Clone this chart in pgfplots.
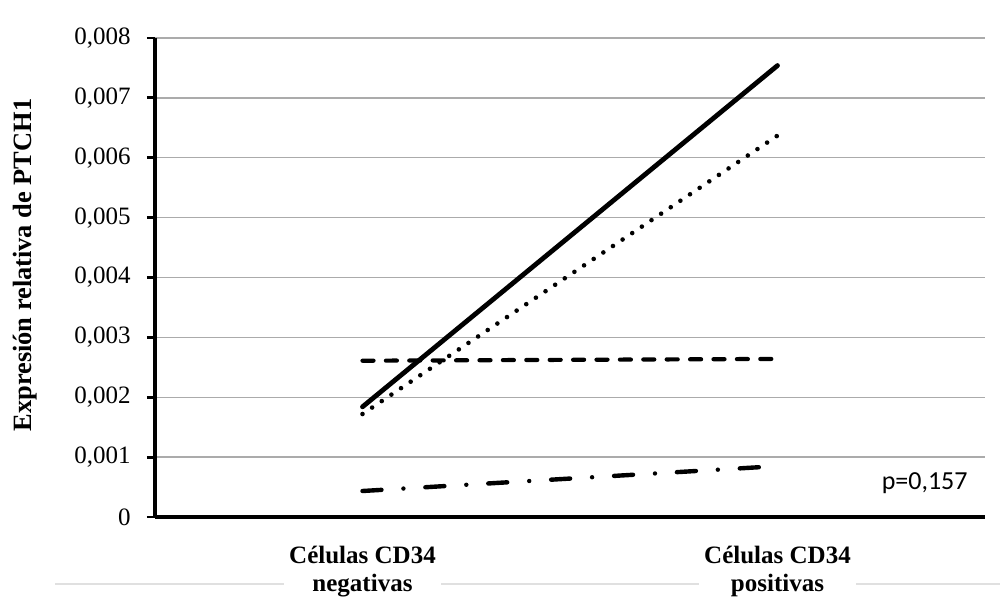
\documentclass[border=0pt]{standalone}
\usepackage{fontspec}
\setmainfont{Liberation Serif}
\newfontfamily\carlito{Carlito}
\usepackage{pgfplots}
\pgfplotsset{compat=1.18}
\begin{document}
\begin{tikzpicture}
\path[use as bounding box] (-77.5pt,-41pt) rectangle (424pt,258.5pt);
\draw[line width=0.8pt, black!12] (-50pt,-33.5pt) -- (422.5pt,-33.5pt);
\begin{axis}[
  at={(0,0)}, anchor=south west,
  scale only axis, width=415pt, height=239.5pt,
  xmin=-0.5, xmax=1.5, ymin=0, ymax=0.008,
  axis x line=bottom, axis y line=left,
  axis line style={line width=1.7pt, -},
  xtick={0,1},
  xticklabels={{Células CD34\\negativas},{Células CD34\\positivas}},
  xtick style={draw=none},
  xticklabel style={align=center, font=\fontsize{12.5}{14}\selectfont\bfseries,
     fill=white, inner xsep=2.5pt, inner ysep=0pt, anchor=north, yshift=-10.5pt},
  ytick={0,0.001,0.002,0.003,0.004,0.005,0.006,0.007,0.008},
  yticklabels={0,{0,001},{0,002},{0,003},{0,004},{0,005},{0,006},{0,007},{0,008}},
  scaled y ticks=false,
  yticklabel style={font=\fontsize{12.5}{14}\selectfont, anchor=east, inner sep=0pt, xshift=-8pt},
  ytick style={line width=1.4pt, black},
  tick align=outside, major tick length=4pt,
  ymajorgrids, grid style={line width=0.7pt, black!33},
  ylabel={Expresión relativa de PTCH1},
  ylabel style={font=\fontsize{13.2}{15}\selectfont\bfseries, at={(axis description cs:-0.1566,0.526)}, anchor=center, rotate=0},
  clip=false,
]
\addplot[black, line width=2.4pt, line cap=round] coordinates {(0,0.00184) (1,0.00754)};
\addplot[black, line width=2.3pt, line cap=round, dash pattern=on 0pt off 5.8pt] coordinates {(0,0.00172) (1,0.00637)};
\addplot[black, line width=2.1pt, line cap=round, dash pattern=on 5.5pt off 6.2pt] coordinates {(0,0.00261) (1,0.00264)};
\addplot[black, line width=2.2pt, line cap=round, dash pattern=on 9.5pt off 11pt on 0pt off 11pt] coordinates {(0,0.000434) (1,0.00085)};
\node[anchor=east, inner sep=0pt, font=\carlito\fontsize{13}{15}\selectfont] at (rel axis cs:0.9795,0.071) {p=0,157};
\end{axis}
\end{tikzpicture}
\end{document}
